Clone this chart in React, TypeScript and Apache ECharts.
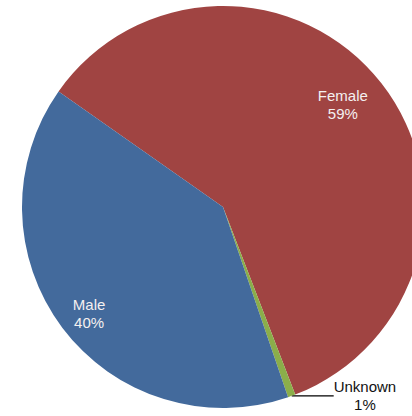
import React, { useEffect, useRef } from "react";
import * as echarts from "echarts";

const categories = ["Female", "Unknown", "Male"];
const values = [59.4, 0.6, 40.0];
const colors = ["#A04442", "#8BAE4A", "#436A9C"];

const CX = 223;
const CY = 207;
const R = 201;
const insideScale: Record<string, number> = { Female: 1.53, Male: 1.654 };
const insideShift: Record<string, [number, number]> = { Female: [-5, -5], Male: [3, 4] };

export default function App() {
  const ref = useRef<HTMLDivElement>(null);
  useEffect(() => {
    document.body.style.margin = "0";
    const chart = echarts.init(ref.current!, null, { renderer: "svg" });
    const data = categories.map((name, i) => {
      const item: any = { name, value: values[i], itemStyle: { color: colors[i] } };
      if (name === "Unknown") {
        item.label = {
          position: "outside",
          color: "#111",
          distanceToLabelLine: 2,
          padding: [15, 0, 0, 0],
        };
        item.labelLine = {
          show: true,
          length: 0,
          length2: 40,
          lineStyle: { color: "#000", width: 1.2 },
        };
      } else {
        item.label = { position: "inside", color: "#F4F0F0" };
        item.labelLine = { show: false };
      }
      return item;
    });
    chart.setOption({
      animation: false,
      series: [
        {
          type: "pie",
          center: [CX, CY],
          radius: R,
          startAngle: 144.9,
          clockwise: true,
          avoidLabelOverlap: false,
          data,
          label: {
            fontFamily: "Liberation Sans, Arial, sans-serif",
            fontSize: 15,
            lineHeight: 18,
            formatter: (p: any) => `${p.name}\n${Math.round(p.percent)}%`,
          },
          labelLayout: (p: any) => {
            const name = categories[p.dataIndex];
            const r = p.labelRect;
            if (name === "Unknown") {
              return { x: r.x + r.width / 2, align: "center" };
            }
            const k = insideScale[name] || 1.6;
            const s = insideShift[name] || [0, 0];
            const cx = r.x + r.width / 2;
            const cy = r.y + r.height / 2;
            return { x: CX + (cx - CX) * k + s[0], y: CY + (cy - CY) * k + s[1] };
          },
        },
      ],
    });
    return () => chart.dispose();
  }, []);
  return <div ref={ref} style={{ width: 412, height: 416 }} />;
}
